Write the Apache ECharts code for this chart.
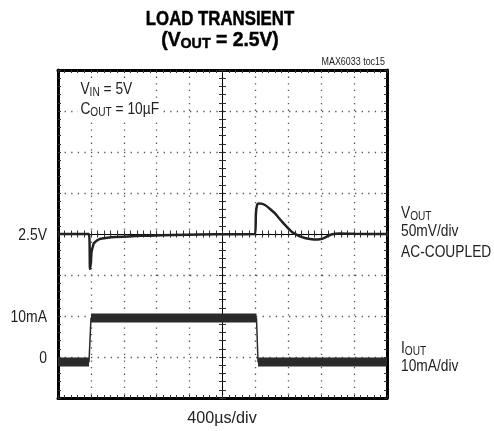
<!DOCTYPE html>
<html><head><meta charset="utf-8">
<script src="https://cdn.jsdelivr.net/npm/echarts@6/dist/echarts.min.js"></script>
<style>html,body{margin:0;padding:0;background:#fff}#c{width:494px;height:431px}</style>
</head><body><div id="c"></div>
<script>
// Scope settings
const timePerDiv = 400;      // µs/div
const voutPerDiv = 50;       // mV/div (AC-coupled, centred on 2.5V)
const ioutPerDiv = 10;       // mA/div
const ioutZeroDiv = -3;      // screen division where IOUT = 0
const xDivs = 10, yDivs = 8;

// VOUT trace (time in µs from screen centre, deviation in mV)
const voutTime = [-2000, -1624, -1611, -1600, -1593, -1575, -1562, -1489, -1400, -1307, -1100, -881, -600, -273, 100, 395, 407, 425, 456, 517, 578, 640, 675, 720, 760, 845, 900, 942, 1000, 1064, 1110, 1161, 1210, 1246, 1307, 1370, 1429, 1611, 2000];
const voutMilliVolt = [0, 0, -42.7, -34, -22, -15, -11, -6, -4.6, -3.7, -2.6, -2, -1.2, -0.6, -0.2, 0, 26, 36.6, 37.2, 35.4, 30.5, 25, 20.7, 15.5, 11, 2.4, -0.8, -3, -4.8, -6.1, -6.6, -6.7, -5.8, -4.3, -1.2, 0.3, 0.6, 0.2, 0];

// IOUT trace (time in µs, current in mA)
const ioutTime = [-2000, -1623, -1599, 413, 432, 2000];
const ioutMilliAmp = [-1.2, -1.2, 9.5, 9.5, -1.2, -1.2];

// Texts
const titleLines = ['LOAD TRANSIENT', '(V{s|OUT} = 2.5V)'];
const leftLabels = [{text: '2.5V', div: 0}, {text: '10mA', div: -2}, {text: '0', div: -3}];
const rightLabels = ['{n|V}{s|OUT}', '50mV/div', 'AC-COUPLED', '{n|I}{s|OUT}', '10mA/div'];
const condLabels = ['{n|V}{s|IN}{n| = 5V}', '{n|C}{s|OUT}{n| = 10µF}'];
const xAxisLabel = '400µs/div';
const tocLabel = 'MAX6033 toc15';

const voutData = voutTime.map((t, i) => [t / timePerDiv, voutMilliVolt[i] / voutPerDiv]);
const ioutEdge = ioutTime.map((t, i) => [t / timePerDiv, ioutZeroDiv + ioutMilliAmp[i] / ioutPerDiv]);
const ioutBand = [];
for (let i = 0; i < ioutTime.length - 1; i++) {
  if (ioutMilliAmp[i] === ioutMilliAmp[i + 1]) {
    ioutBand.push(ioutEdge[i], ioutEdge[i + 1], [ioutEdge[i + 1][0], '-']);
  }
}

const FONT = "'Liberation Sans', Arial, sans-serif";
const GL = 58, GT = 70, GW = 329, GH = 328;

function xAxisDef(pos, inside, onZero, isMain) {
  return {
    type: 'value', min: -xDivs / 2, max: xDivs / 2, interval: 1, position: pos,
    axisLine: {show: true, onZero: onZero, lineStyle: {color: '#000', width: onZero ? 1 : 3}},
    axisTick: {show: true, inside: inside, length: onZero ? 3.5 : 3, lineStyle: {color: '#333', width: 1}},
    minorTick: {show: true, splitNumber: 5, length: onZero ? 3.5 : 3, lineStyle: {color: '#333', width: 1}},
    axisLabel: {show: false},
    splitLine: {show: isMain, lineStyle: {color: '#555', width: 1.3, type: [1.3, 5.3]}},
    minorSplitLine: {show: false}
  };
}
function yAxisDef(pos, inside, onZero, isMain) {
  return {
    type: 'value', min: -yDivs / 2, max: yDivs / 2, interval: 1, position: pos,
    axisLine: {show: true, onZero: onZero, lineStyle: {color: '#000', width: onZero ? 1 : 3}},
    axisTick: {show: true, inside: inside, length: onZero ? 3.5 : 3, lineStyle: {color: '#333', width: 1}},
    minorTick: {show: true, splitNumber: 5, length: onZero ? 3.5 : 3, lineStyle: {color: '#333', width: 1}},
    axisLabel: {show: false},
    splitLine: {show: isMain, lineStyle: {color: '#555', width: 1.3, type: [1.3, 5.3]}},
    minorSplitLine: {show: false}
  };
}

const sub = {fontFamily: FONT, fontSize: 12.5, padding: [7, 0, 0, 0], fill: '#222'};

function txt(x, y, text, size, align, sx, bg) {
  const s = {text: text, font: size + 'px ' + FONT, fill: '#222', align: align, verticalAlign: 'middle',
    rich: {n: {fontFamily: FONT, fontSize: size, fill: '#222'}, s: sub}};
  if (bg) { s.backgroundColor = '#fff'; s.padding = [0, 3, 0, 3]; }
  return {type: 'text', x: x, y: y, scaleX: sx, z: 100, style: s};
}

const graphics = [];
graphics.push({type: 'text', x: 220, y: 19, scaleX: 0.8, style: {text: titleLines[0], font: "bold 21px " + FONT, fill: '#000', stroke: '#000', lineWidth: 0.5, align: 'center', verticalAlign: 'middle'}});
graphics.push({type: 'text', x: 220, y: 40, scaleX: 0.92, style: {text: titleLines[1], font: "bold 21px " + FONT, fill: '#000', stroke: '#000', lineWidth: 0.5, align: 'center', verticalAlign: 'middle',
  rich: {s: {fontFamily: FONT, fontWeight: 'bold', fontSize: 15.5, padding: [8, 0, 0, 0], fill: '#000'}}}});
graphics.push(txt(385, 62, tocLabel, 10.5, 'right', 0.85));
leftLabels.forEach(l => {
  graphics.push(txt(47, GT + GH / 2 - l.div * GH / yDivs + 1, l.text, 17, 'right', 0.82));
});
const rightY = [213, 231.5, 252, 348, 366];
rightLabels.forEach((t, i) => {
  graphics.push(txt(401, rightY[i], t, 17, 'left', 0.81));
});
const condY = [89, 109];
condLabels.forEach((t, i) => {
  graphics.push(txt(78, condY[i], t, 17, 'left', 0.81, true));
});
graphics.push(txt(222, 418, xAxisLabel, 17, 'center', 0.95));

const chart = echarts.init(document.getElementById('c'), null, {renderer: 'canvas'});
chart.setOption({
  backgroundColor: '#fff',
  animation: false,
  grid: {left: GL, top: GT, width: GW, height: GH, containLabel: false},
  xAxis: [
    xAxisDef('bottom', true, false, true),
    xAxisDef('top', true, false, false),
    xAxisDef('bottom', true, true, false),
    xAxisDef('bottom', false, true, false)
  ],
  yAxis: [
    yAxisDef('left', true, false, true),
    yAxisDef('right', true, false, false),
    yAxisDef('left', true, true, false),
    yAxisDef('left', false, true, false)
  ],
  series: [
    {type: 'line', data: ioutBand, showSymbol: false, connectNulls: false, lineStyle: {color: '#2b2b2b', width: 9, cap: 'butt'}, z: 5},
    {type: 'line', data: ioutEdge, showSymbol: false, lineStyle: {color: '#2b2b2b', width: 1.5}, z: 5},
    {type: 'line', data: voutData, showSymbol: false, smooth: 0.25, lineStyle: {color: '#222', width: 2.5}, z: 6}
  ],
  graphic: graphics
});
</script></body></html>
